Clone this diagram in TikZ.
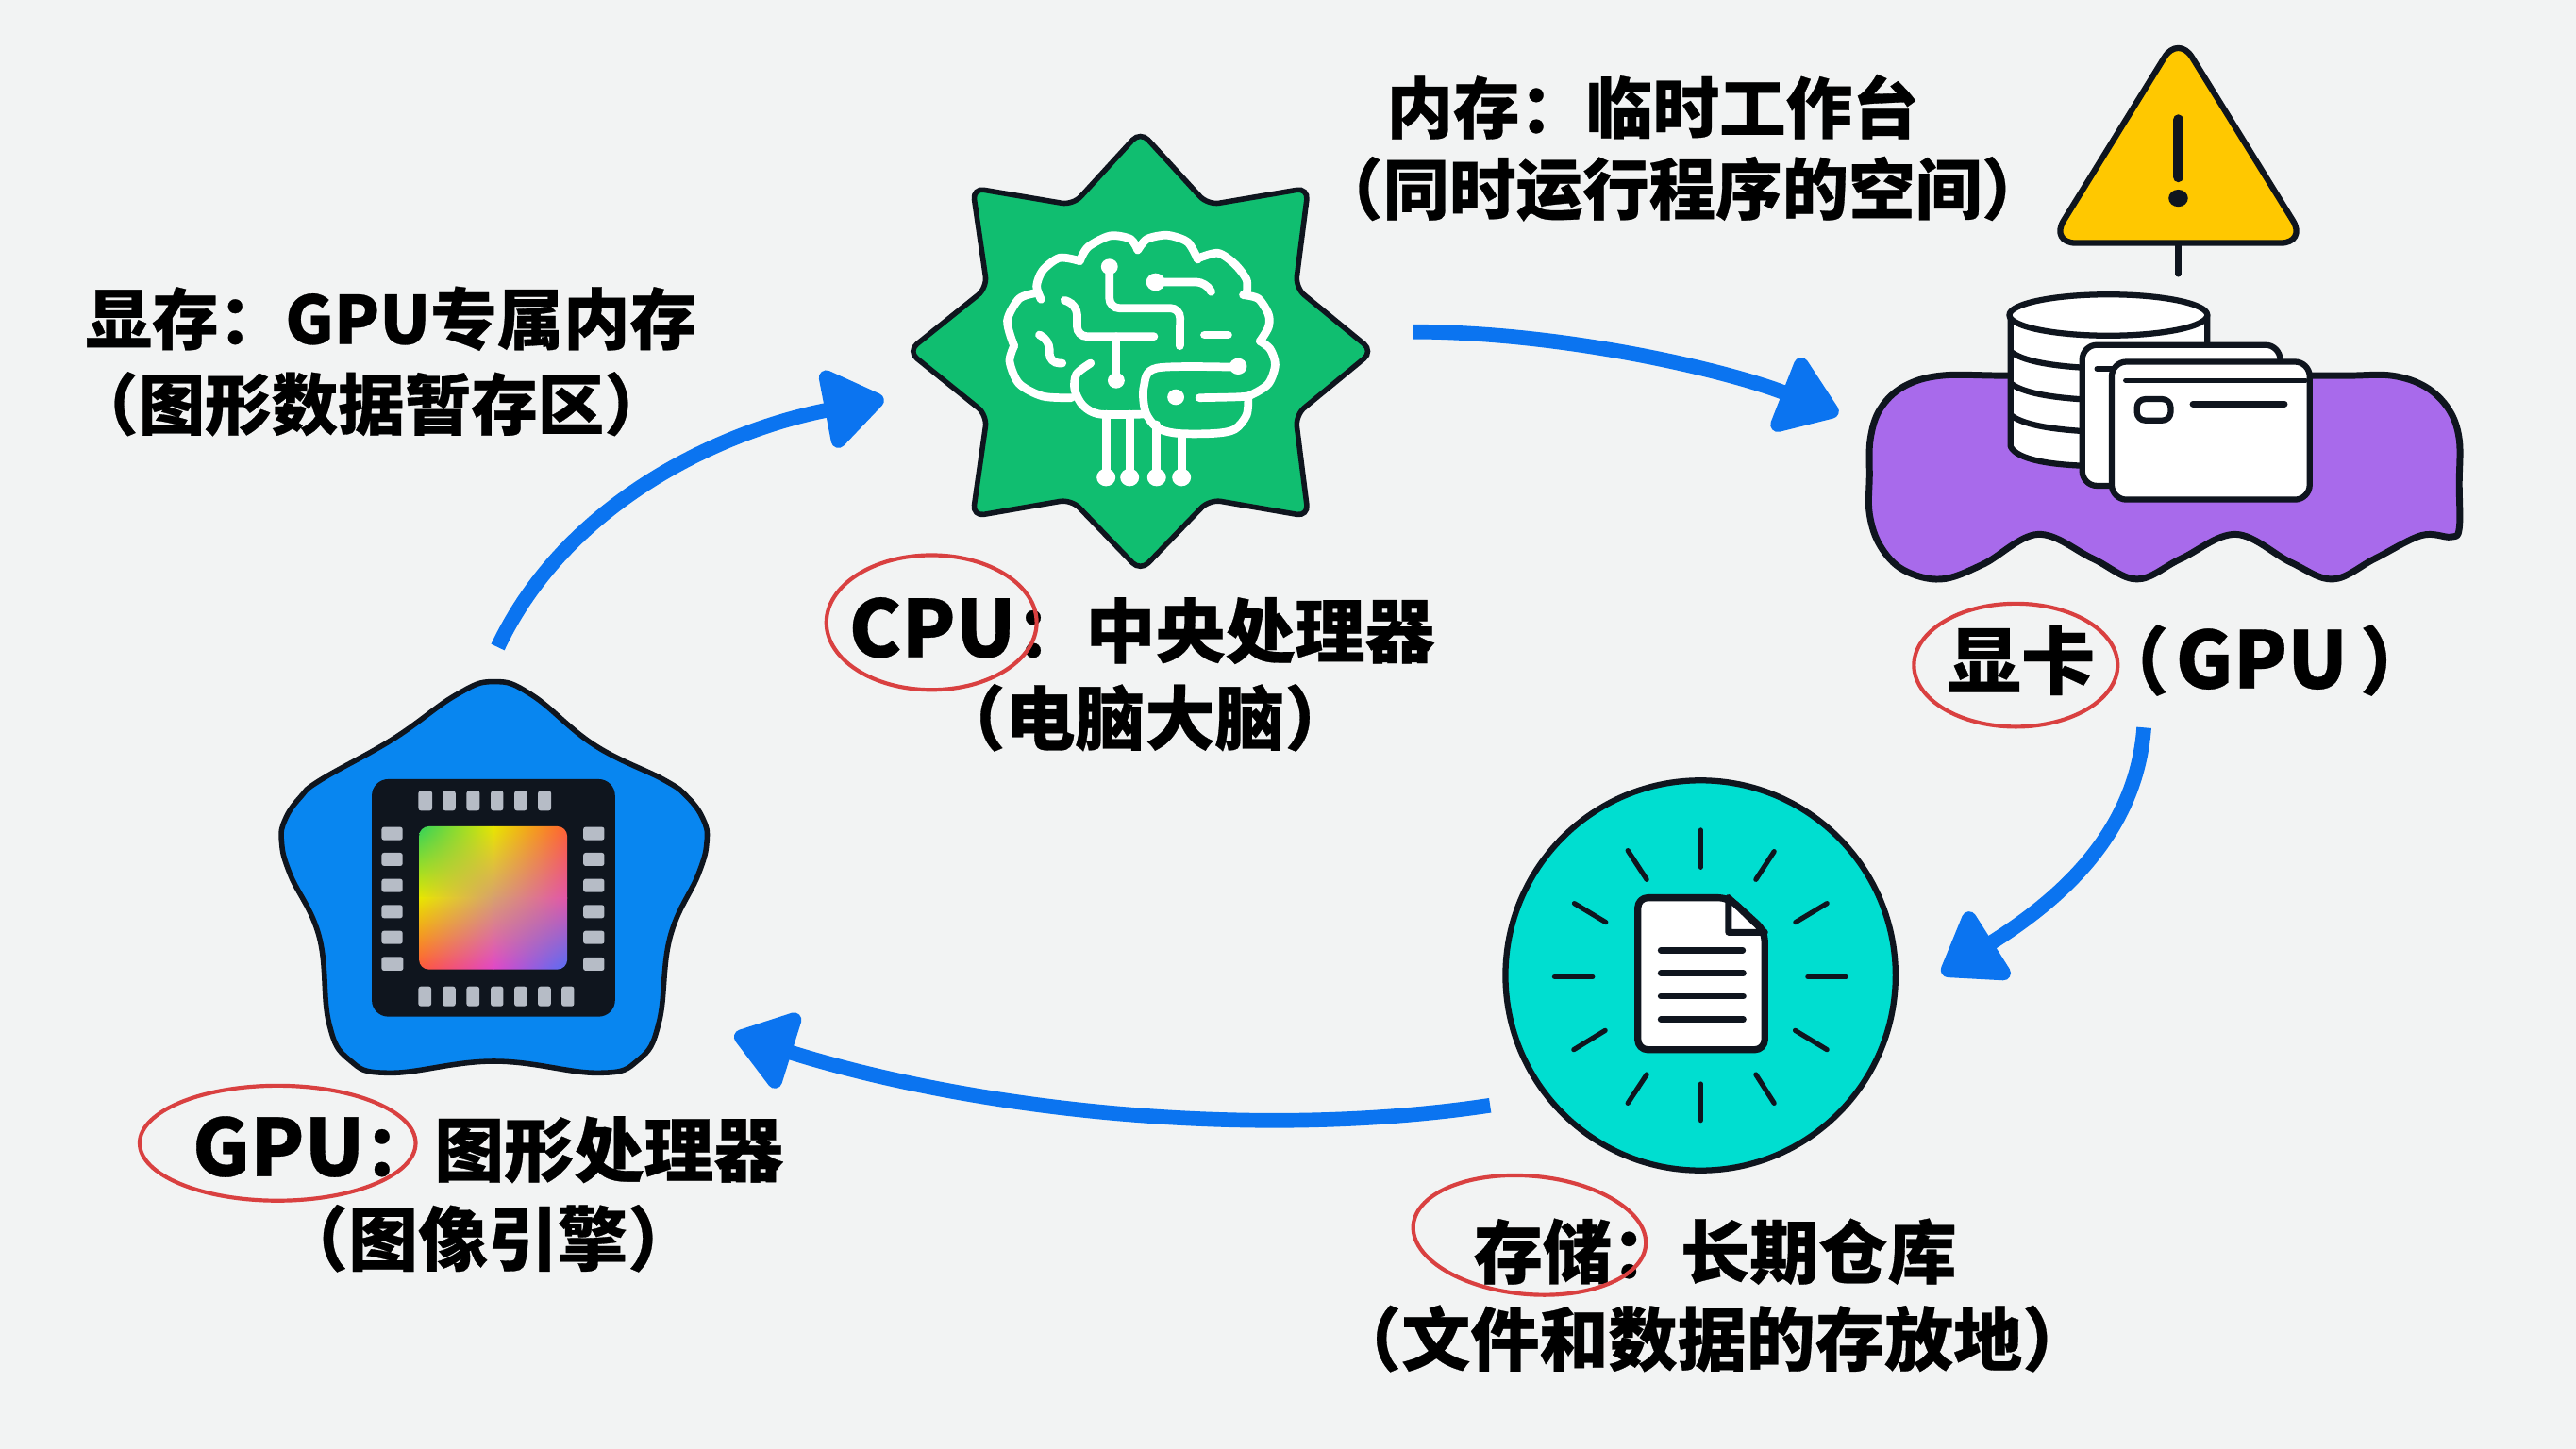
\documentclass[tikz,border=0pt]{standalone}
\usepackage{fontspec}
\setmainfont{Noto Sans CJK SC}[BoldFeatures={FakeBold=0.4}]
\usetikzlibrary{arrows.meta,shapes.geometric,shadings}
\definecolor{paperbg}{RGB}{242,243,243}
\definecolor{inkdark}{RGB}{15,21,30}
\definecolor{cpugreen}{RGB}{16,190,112}
\definecolor{cardpurple}{RGB}{168,106,235}
\definecolor{gpublue}{RGB}{8,134,240}
\definecolor{storecyan}{RGB}{0,222,208}
\definecolor{warnyellow}{RGB}{255,200,0}
\definecolor{flowblue}{RGB}{11,116,240}
\definecolor{circlered}{RGB}{217,64,64}
\definecolor{padgray}{RGB}{182,188,198}
\definecolor{diegreen}{RGB}{50,210,90}
\definecolor{dieyellow}{RGB}{232,230,0}
\definecolor{dieorange}{RGB}{255,95,50}
\definecolor{dietan}{RGB}{215,160,110}
\definecolor{diepink}{RGB}{225,85,170}
\definecolor{diered}{RGB}{255,85,60}
\definecolor{diemagenta}{RGB}{225,70,200}
\definecolor{dieblue}{RGB}{85,110,245}
\newcommand{\biglatin}[1]{{\fontsize{48}{55}\selectfont #1}}
\tikzset{
  labeltext/.style={font=\fontsize{40.5}{48}\selectfont\bfseries, text=black, inner sep=0pt},
  labelbig/.style={font=\fontsize{42.5}{48}\selectfont\bfseries, text=black, inner sep=0pt},
  flowarrow/.style={line width=9pt, flowblue, -{Triangle[length=40pt,width=54pt,round]}},
  redcircle/.style={ellipse, draw=circlered, line width=2.4pt, inner sep=0pt},
  iconline/.style={draw=inkdark, line width=3.6pt, line join=round},
  brainline/.style={white, line width=5pt, line cap=round, rounded corners=6pt},
  brainlobe/.style={white, line width=5pt, line cap=round},
  raystroke/.style={inkdark, line width=3pt, line cap=round},
  padbox/.style={fill=padgray, rounded corners=1.5pt},
}
\begin{document}
\begin{tikzpicture}[x=1pt,y=-1pt]
    % Page
    \fill[paperbg] (0,0) rectangle (1568,882);
    % Arrow ends
    \coordinate (gpuout) at (303,394); \coordinate (cpuin) at (538,243);
    \coordinate (cpuout) at (860,202); \coordinate (cardin) at (1119,252);
    \coordinate (cardout) at (1305,443); \coordinate (storein) at (1182,593);
    \coordinate (storeout) at (907,673); \coordinate (gpuin) at (447,630);
    % Cycle arrows
    \draw[flowarrow] (gpuout) .. controls (345,305) and (440,262) .. (cpuin);
    \draw[flowarrow] (cpuout) .. controls (950,202) and (1050,225) .. (cardin);
    \draw[flowarrow] (cardout) .. controls (1300,510) and (1250,550) .. (storein);
    \draw[flowarrow] (storeout) .. controls (760,695) and (590,675) .. (gpuin);

    % CPU badge
    \begin{scope}[shift={(534.2,68.9)},xscale=0.2051,yscale=0.1915]
        \draw[fill=cpugreen, draw=inkdark, line width=3.2pt, rounded corners=7pt]
            (780,58) -- (980,292) -- (1278,238) -- (1240,555) -- (1470,757) -- (1240,960) -- (1278,1282) -- (985,1228)
            -- (780,1456) -- (575,1228) -- (282,1282) -- (325,960) -- (90,757) -- (325,555) -- (282,238) -- (580,292) -- cycle;
        % Brain outline
        \draw[brainlobe] plot[smooth] coordinates {(600,470) (625,425) (690,390) (750,400) (772,435)};
        \draw[brainlobe] plot[smooth] coordinates {(772,435) (800,400) (860,388) (920,410) (950,465)};
        \draw[brainlobe] plot[smooth] coordinates {(950,462) (1010,445) (1060,480) (1095,530) (1095,575)};
        \draw[brainlobe] plot[smooth] coordinates {(1085,578) (1130,590) (1160,640) (1160,680) (1135,725)};
        \draw[brainlobe] plot[smooth] coordinates {(1135,725) (1165,750) (1180,800) (1160,860) (1110,895) (1075,902) (955,905)};
        \draw[brainlobe] plot[smooth] coordinates {(1100,905) (1095,960) (1060,1005) (1000,1018) (890,1018) (830,1000) (795,950) (790,870) (830,810) (1075,808)};
        \draw[brainlobe] plot[smooth] coordinates {(600,470) (540,460) (490,500) (472,550) (485,592)};
        \draw[brainlobe] plot[smooth] coordinates {(470,572) (420,590) (385,660) (405,740)};
        \draw[brainlobe] plot[smooth] coordinates {(405,740) (392,790) (420,860) (490,900) (575,905)};
        \draw[brainlobe] plot[smooth] coordinates {(632,795) (590,830) (585,880) (610,930) (660,957) (790,957)};
        % Brain traces
        \draw[brainline] (688,490) -- (688,620) -- (898,620) -- (897,740);
        \draw[brainline] (825,537) -- (975,537) -- (990,568);
        \draw[brainline] (555,595) -- (592,610) -- (592,710) -- (820,710);
        \draw[brainline] (708,710) -- (708,850);
        \draw[brainline] (480,705) -- (510,720) -- (510,795) -- (548,795);
        \draw[brainline] (970,705) -- (1040,705);
        \draw[brainline] (678,957) -- (678,1158); \draw[brainline] (748,957) -- (748,1158);
        \draw[brainline] (828,990) -- (828,1158); \draw[brainline] (902,1020) -- (902,1158);
        % Brain dots
        \fill[white] (688,488) circle (25); \fill[white] (825,537) circle (28); \fill[white] (708,850) circle (25);
        \fill[white] (1070,805) circle (26); \fill[white] (885,903) circle (25);
        \fill[white] (678,1158) circle (28); \fill[white] (748,1158) circle (28);
        \fill[white] (828,1158) circle (28); \fill[white] (902,1158) circle (28);
    \end{scope}

    % Warning sign
    \begin{scope}[shift={(1120,17.2)},xscale=0.2564,yscale=0.2274]
        \draw[iconline, fill=warnyellow, rounded corners=16pt] (803,18) -- (1108,575) -- (498,575) -- cycle;
        \draw[inkdark, line width=6.5pt, line cap=round] (803,245) -- (803,398);
        \fill[inkdark] (803,455) circle (23);
        \draw[inkdark, line width=3.5pt, line cap=round] (803,580) -- (803,658);
        % Graphics card blob
        \draw[iconline, line width=4pt, fill=cardpurple] plot[smooth cycle, tension=0.6] coordinates {
            (240,930) (400,930) (700,930) (1000,930) (1200,930) (1310,930) (1390,960) (1445,1020) (1470,1100) (1470,1220) (1470,1340) (1450,1362) (1380,1358) (1270,1420) (1170,1475)
            (1070,1430) (940,1355) (810,1420) (705,1475) (600,1420) (470,1355) (340,1435) (240,1475) (150,1450) (95,1385)
            (70,1300) (70,1200) (72,1100) (95,1020) (150,960)};
        % Disk stack
        \draw[iconline, fill=white] (405,768) -- (405,1120) .. controls (420,1155) and (500,1170) .. (600,1172) -- (872,1172) -- (872,768) -- cycle;
        \draw[iconline] (405,865) .. controls (430,890) and (500,905) .. (600,910);
        \draw[iconline] (405,950) .. controls (430,975) and (500,990) .. (600,995);
        \draw[iconline] (405,1035) .. controls (430,1060) and (500,1075) .. (600,1080);
        \draw[iconline, fill=white] (637,768) ellipse [x radius=235, y radius=55];
        % Memory cards
        \draw[iconline, fill=white, rounded corners=9pt] (575,848) rectangle (1045,1225);
        \draw[inkdark, line width=3.2pt, line cap=round] (610,912) -- (650,912);
        \draw[iconline, fill=white, rounded corners=9pt] (645,893) rectangle (1115,1262);
        \draw[inkdark, line width=3pt, line cap=round] (678,943) -- (1105,943);
        \draw[iconline, rounded corners=5pt] (705,993) rectangle (785,1050);
        \draw[inkdark, line width=4pt, line cap=round] (838,1006) -- (1055,1006);
    \end{scope}

    % GPU badge
    \begin{scope}[shift={(155.1,402)},scale=0.1915]
        \draw[draw=inkdark, line width=3.2pt, fill=gpublue] plot[smooth cycle, tension=0.7] coordinates {
            (760,68) (880,110) (1080,270) (1300,380) (1375,435) (1425,505) (1437,575) (1410,680) (1320,880) (1285,1150) (1220,1270) (1090,1312)
            (760,1275) (430,1312) (300,1270) (235,1150) (205,880) (112,680) (85,575) (97,505) (145,435) (210,380) (440,250) (640,110)};
        % Chip body
        \fill[inkdark, rounded corners=10pt] (372,378) rectangle (1145,1133);
        % Rainbow die
        \begin{scope}
            \clip[rounded corners=6pt] (522,528) rectangle (993,983);
            \shade[upper left=diegreen, upper right=dieyellow, lower left=dieyellow, lower right=dietan] (522,528) rectangle (760,758);
            \shade[upper left=dieyellow, upper right=dieorange, lower left=dietan, lower right=diepink] (757,528) rectangle (993,758);
            \shade[upper left=dieyellow, upper right=dietan, lower left=diered, lower right=diemagenta] (522,755) rectangle (760,983);
            \shade[upper left=dietan, upper right=diepink, lower left=diemagenta, lower right=dieblue] (757,755) rectangle (993,983);
        \end{scope}
        % Pads top
        \fill[padbox] (520,415) rectangle (564,478); \fill[padbox] (598,415) rectangle (638,478); \fill[padbox] (673,415) rectangle (715,478);
        \fill[padbox] (750,415) rectangle (790,478); \fill[padbox] (825,415) rectangle (865,478); \fill[padbox] (900,415) rectangle (942,478);
        % Pads bottom
        \fill[padbox] (520,1037) rectangle (561,1100); \fill[padbox] (597,1037) rectangle (638,1100); \fill[padbox] (673,1037) rectangle (714,1100); \fill[padbox] (750,1037) rectangle (790,1100);
        \fill[padbox] (825,1037) rectangle (865,1100); \fill[padbox] (900,1037) rectangle (941,1100); \fill[padbox] (975,1037) rectangle (1015,1100);
        % Pads left
        \fill[padbox] (403,530) rectangle (470,572); \fill[padbox] (403,612) rectangle (470,654); \fill[padbox] (403,695) rectangle (470,737);
        \fill[padbox] (403,778) rectangle (470,820); \fill[padbox] (403,860) rectangle (470,902); \fill[padbox] (403,943) rectangle (472,987);
        % Pads right
        \fill[padbox] (1044,530) rectangle (1111,572); \fill[padbox] (1044,612) rectangle (1111,654); \fill[padbox] (1044,695) rectangle (1111,737);
        \fill[padbox] (1044,778) rectangle (1111,820); \fill[padbox] (1044,860) rectangle (1111,902); \fill[padbox] (1044,945) rectangle (1111,987);
    \end{scope}

    % Storage badge
    \begin{scope}[shift={(901.8,465.2)},scale=0.1915]
        \draw[draw=inkdark, line width=3.6pt, fill=storecyan] (696,672) circle (620);
        % Rays
        \draw[raystroke] (696,210) -- (696,328); \draw[raystroke] (465,275) -- (525,367); \draw[raystroke] (930,278) -- (872,367);
        \draw[raystroke] (295,443) -- (395,503); \draw[raystroke] (1098,443) -- (998,503); \draw[raystroke] (232,676) -- (353,676);
        \draw[raystroke] (1037,676) -- (1158,676); \draw[raystroke] (293,908) -- (393,847); \draw[raystroke] (1098,908) -- (997,847);
        \draw[raystroke] (465,1078) -- (525,987); \draw[raystroke] (930,1078) -- (872,987); \draw[raystroke] (696,1017) -- (696,1133);
        % Document
        \draw[iconline, line width=4.2pt, fill=white, rounded corners=6pt] (497,425) -- (785,425) -- (900,530) -- (900,908) -- (497,908) -- cycle;
        \draw[iconline, line width=4pt, fill=white, line join=round] (785,425) -- (785,535) -- (900,535) -- cycle;
        \draw[inkdark, line width=3.8pt, line cap=round] (570,592) -- (830,592); \draw[inkdark, line width=3.8pt, line cap=round] (570,665) -- (832,665);
        \draw[inkdark, line width=3.8pt, line cap=round] (570,738) -- (832,738); \draw[inkdark, line width=3.8pt, line cap=round] (570,812) -- (832,812);
    \end{scope}

    % Labels
    \node[labeltext] (ramtitle) at (1006,65) {内存：临时工作台};
    \node[labeltext] (ramnote) at (1024,115) {（同时运行程序的空间）};
    \node[labeltext] (vramtitle) at (238,194) {显存：GPU专属内存};
    \node[labeltext] (vramnote) at (226,246) {（图形数据暂存区）};
    \node[labelbig] (cputitle) at (695,384) {\biglatin{CPU}：中央处理器};
    \node[labelbig] (cpunote) at (697,437) {（电脑大脑）};
    \node[labelbig, font=\fontsize{45}{48}\selectfont\bfseries, anchor=west] (cardtitle) at (1185,402) {显卡（\hspace{4pt}\biglatin{GPU}\,）};
    \node[labelbig] (gputitle) at (297,700) {\biglatin{GPU}：图形处理器};
    \node[labelbig] (gpunote) at (297,754) {（图像引擎）};
    \node[labelbig, font=\fontsize{42}{48}\selectfont\bfseries] (storetitle) at (1044,762) {存储：长期仓库};
    \node[labelbig, font=\fontsize{42}{48}\selectfont\bfseries] (storenote) at (1042,815) {（文件和数据的存放地）};
    % Red circles
    \node[redcircle, minimum width=128pt, minimum height=82pt] (cpucircle) at (567,379) {};
    \node[redcircle, minimum width=124pt, minimum height=75pt] (cardcircle) at (1227,405) {};
    \node[redcircle, minimum width=168pt, minimum height=70pt] (gpucircle) at (169,696) {};
    \node[redcircle, minimum width=142pt, minimum height=72pt, rotate=-5] (storecircle) at (931,752) {};
\end{tikzpicture}
\end{document}
